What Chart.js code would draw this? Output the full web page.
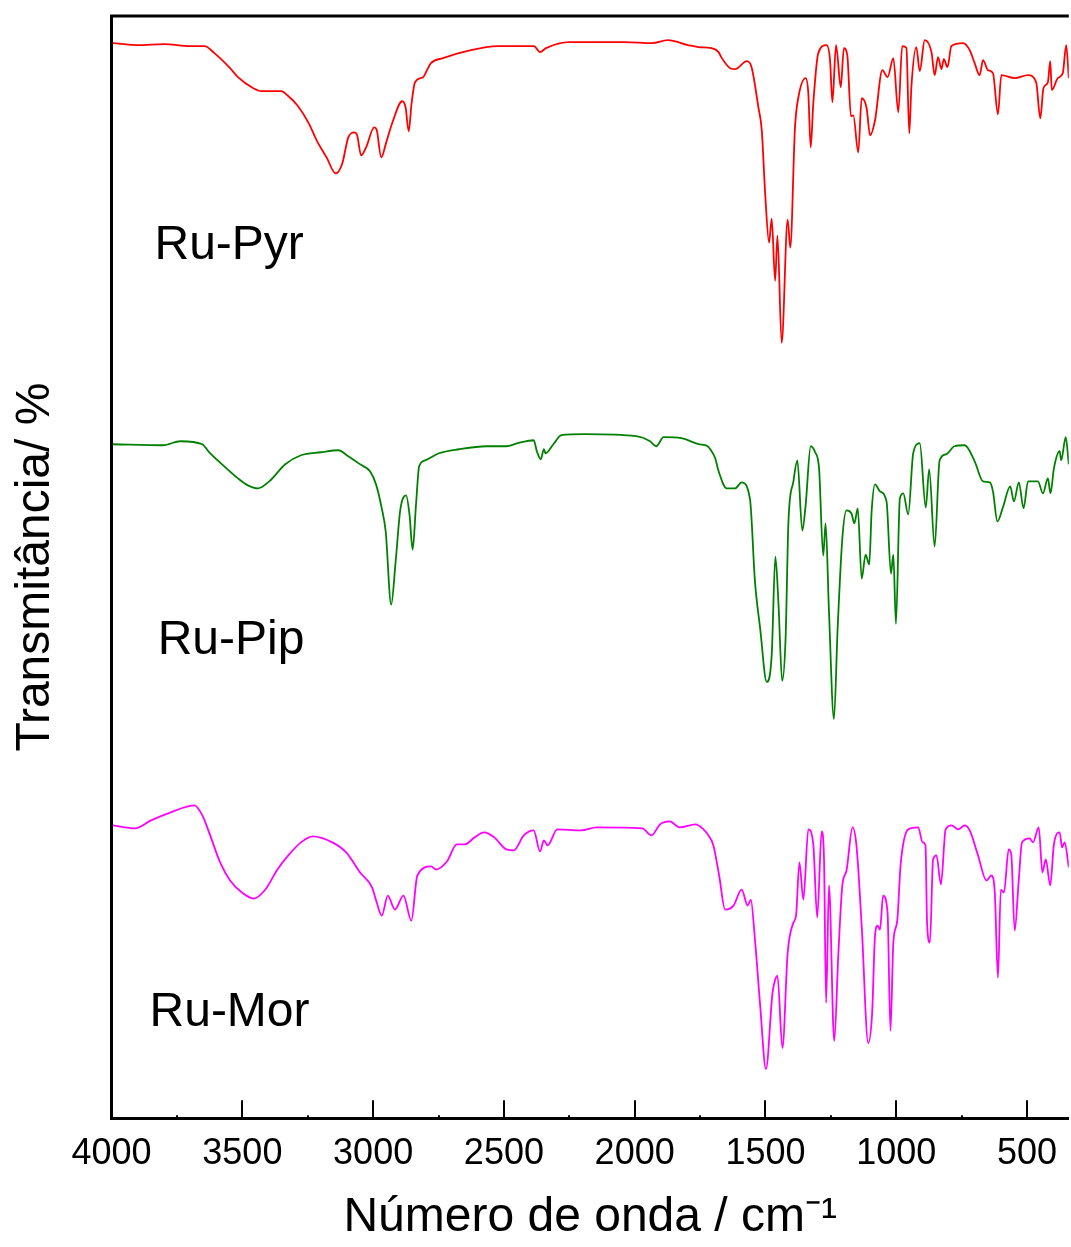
<!DOCTYPE html>
<html>
<head>
<meta charset="utf-8">
<script src="https://cdn.jsdelivr.net/npm/chart.js@4/dist/chart.umd.min.js"></script>
<style>
  html, body { margin: 0; padding: 0; background: #fff; }
  canvas { display: block; }
</style>
</head>
<body>
<canvas id="ir-chart" width="1071" height="1247"></canvas>
<script>
// wavenumbers (cm-1) and transmittance (offset, arbitrary %)
const seriesNames = ["Ru-Pyr", "Ru-Pip", "Ru-Mor"];

const pyrWn = [3995,3900,3800,3700,3645,3607,3547,3517,3458,3428,3351,3328,3290,3246,3216,3178,3143,3118,3095,3072,
  3061,3046,3027,2996,2986,2969,2951,2926,2889,2876,2864,2853,2840,2809,2794,2779,2733,2642,2523,2385,
  2362,2339,2250,2038,1933,1873,1797,1756,1706,1679,1669,1635,1616,1571,1553,1527,1514,1501,1486,1476,
  1463,1454,1438,1415,1405,1387,1374,1346,1336,1327,1317,1298,1266,1253,1244,1230,1212,1200,1187,1173,
  1164,1145,1132,1113,1100,1081,1053,1033,1011,992,977,961,950,942,923,910,891,865,853,840,
  827,818,804,789,744,719,700,681,668,649,630,611,598,547,496,465,449,437,420,411,
  405,382,363,350,340];
const pyrT = [107.2,107.0,107.1,106.9,106.9,106.2,104.7,103.8,102.7,102.4,102.4,102.0,101.0,99.2,97.5,95.8,94.2,95.2,97.8,98.3,
  98.0,96.0,96.8,98.8,98.5,95.8,97.2,99.3,101.4,100.8,98.4,101.2,103.3,103.8,104.5,105.2,105.7,106.4,106.9,106.9,
  106.3,106.7,107.3,107.3,107.2,107.5,107.0,106.8,106.7,106.3,105.8,104.7,104.6,105.4,104.8,100.8,98.5,92.2,87.3,89.7,
  83.5,88.0,77.3,89.6,86.8,98.8,101.8,103.7,102.2,96.8,101.2,106.2,107.0,105.5,101.3,107.0,102.8,106.7,106.0,99.9,
  100.0,96.3,101.7,100.7,98.0,99.5,104.5,103.8,105.7,100.3,106.9,106.7,98.2,102.8,106.8,104.4,107.5,106.3,104.0,105.8,
  104.6,105.6,104.8,106.9,107.2,106.5,105.2,104.0,105.5,104.5,104.2,100.1,104.0,103.7,104.0,103.3,99.7,102.7,103.3,105.4,
  102.5,103.7,104.2,107.0,103.7];

const pipWn = [3995,3804,3737,3653,3630,3578,3517,3479,3441,3397,3336,3276,3200,3133,3095,3050,3012,2989,2967,2952,
  2931,2914,2896,2874,2861,2849,2836,2824,2801,2748,2672,2567,2492,2447,2386,2374,2359,2347,2341,2311,
  2280,2190,1994,1941,1918,1889,1821,1756,1721,1711,1692,1679,1648,1616,1591,1559,1540,1520,1495,1476,
  1462,1450,1436,1423,1412,1393,1378,1359,1346,1327,1310,1295,1279,1270,1257,1238,1224,1206,1190,1171,
  1160,1147,1132,1117,1103,1094,1081,1062,1037,1020,1011,1001,986,973,954,935,910,887,874,853,
  834,809,777,738,700,668,642,630,613,592,564,550,531,513,496,458,439,420,410,397,
  375,369,352,340];
const pipT = [67.2,67.1,67.5,67.2,66.5,65.2,63.8,63.1,62.8,63.5,65.2,66.1,66.4,66.6,66.0,65.2,64.5,63.2,60.8,58.5,
  51.2,55.5,60.7,62.1,60.2,56.7,61.2,65.0,65.6,66.3,66.7,67.0,67.0,67.3,67.6,66.5,65.7,66.7,66.3,67.2,
  68.1,68.2,68.0,67.5,67.0,67.9,67.8,67.2,67.0,66.7,65.8,64.5,62.8,62.8,63.4,61.7,53.5,48.8,43.5,46.2,
  56.0,51.2,43.6,47.8,59.5,63.5,65.6,58.6,61.2,67.0,66.4,64.8,56.1,59.3,50.5,39.8,48.8,57.8,60.6,60.3,
  59.3,60.8,53.8,56.2,55.2,60.5,63.2,62.5,61.5,54.3,56.2,49.3,61.8,62.3,60.2,66.3,67.3,60.9,64.7,57.0,
  65.6,66.2,67.0,67.1,65.5,63.5,63.4,62.5,59.5,60.9,63.0,61.5,63.4,60.8,63.5,63.5,62.3,63.8,62.3,64.8,
  66.5,65.6,67.9,65.2];

const morWn = [3995,3910,3849,3774,3683,3653,3623,3585,3547,3502,3457,3412,3366,3321,3276,3231,3156,3103,3050,3004,
  2986,2967,2944,2917,2884,2854,2831,2778,2760,2718,2680,2650,2612,2575,2537,2491,2462,2424,2386,2362,
  2347,2333,2296,2205,2145,1971,1936,1903,1866,1828,1767,1737,1718,1699,1677,1654,1622,1591,1568,1556,
  1540,1520,1498,1473,1463,1454,1435,1415,1393,1383,1370,1355,1336,1317,1302,1285,1276,1268,1257,1237,
  1221,1206,1190,1167,1152,1132,1107,1092,1081,1071,1062,1050,1033,1022,1011,996,983,954,916,899,
  888,882,871,859,846,829,811,788,763,738,719,687,655,636,623,611,600,588,570,560,
  547,532,519,490,477,455,441,428,411,397,375,366,356,340];
const morT = [29.2,28.9,29.7,30.5,31.2,30.2,28.2,25.5,23.7,22.5,21.9,22.8,24.8,26.3,27.5,28.1,27.5,26.5,24.5,23.0,
  21.5,20.2,22.2,20.8,22.2,19.7,24.2,25.1,24.8,25.6,27.3,27.3,28.0,28.5,28.0,26.8,26.7,28.2,28.7,26.6,
  27.7,27.2,28.8,28.7,29.0,28.9,28.2,29.3,29.6,29.0,29.3,28.8,28.2,27.2,24.2,20.8,21.2,22.8,21.2,21.8,
  17.8,11.2,4.9,12.5,13.8,14.2,7.0,16.5,19.5,20.2,25.5,21.8,28.8,27.3,20.0,28.6,25.8,11.5,23.2,7.7,
  16.5,23.2,24.7,29.0,27.2,19.2,7.5,10.5,18.2,19.2,18.8,22.2,20.5,8.7,17.5,19.7,25.3,28.8,29.0,27.5,
  27.2,19.5,17.5,25.8,26.2,23.3,28.8,29.2,28.8,29.2,28.7,26.2,23.7,24.2,22.5,14.0,22.8,22.5,26.8,26.3,
  18.7,23.5,27.5,27.9,27.5,29.0,24.5,25.8,23.2,27.3,28.5,27.0,27.5,25.0];

const toPoints = (wn, t) => wn.map((w, i) => ({ x: w, y: t[i] }));

// where the sample names sit (wavenumber, offset value of the baseline)
const nameAnchors = [[3836, 85.7], [3824, 46.3], [3855, 9.2]];

const FONT = '"Liberation Sans", Arial, sans-serif';
Chart.defaults.font.family = FONT;
Chart.defaults.color = "#000";

// top frame line, inward x ticks and the sample names
const framePlugin = {
  id: "frame",
  afterDraw(chart) {
    const { ctx, chartArea: a, scales: { x, y } } = chart;
    ctx.save();
    ctx.strokeStyle = "#000";
    ctx.lineWidth = 3;
    ctx.beginPath();
    ctx.moveTo(a.left - 1.5, a.top);
    ctx.lineTo(a.right, a.top);
    ctx.stroke();

    ctx.lineWidth = 2;
    x.ticks.forEach((t) => {
      const px = Math.round(x.getPixelForValue(t.value));
      const len = t.value % 500 === 0 ? 18 : 3;
      ctx.beginPath();
      ctx.moveTo(px, a.bottom);
      ctx.lineTo(px, a.bottom - len);
      ctx.stroke();
    });

    ctx.fillStyle = "#000";
    ctx.font = "48px " + FONT;
    ctx.textBaseline = "alphabetic";
    ctx.textAlign = "left";
    seriesNames.forEach((name, i) => {
      const [wn, v] = nameAnchors[i];
      ctx.fillText(name, x.getPixelForValue(wn), y.getPixelForValue(v));
    });
    ctx.restore();
  },
};

const ctx = document.getElementById("ir-chart").getContext("2d");
new Chart(ctx, {
  type: "line",
  data: {
    datasets: [
      { label: seriesNames[0], data: toPoints(pyrWn, pyrT), borderColor: "#ff0000" },
      { label: seriesNames[1], data: toPoints(pipWn, pipT), borderColor: "#008000" },
      { label: seriesNames[2], data: toPoints(morWn, morT), borderColor: "#ff00ff" },
    ],
  },
  options: {
    responsive: false,
    animation: false,
    devicePixelRatio: 1,
    layout: { padding: { left: 0, right: 0, top: 16, bottom: 0 } },
    elements: {
      line: { borderWidth: 1.8, cubicInterpolationMode: "monotone", fill: false },
      point: { radius: 0 },
    },
    plugins: {
      legend: { display: false },
      tooltip: { enabled: false },
    },
    scales: {
      x: {
        type: "linear",
        reverse: true,
        min: 340,
        max: 4000,
        border: { display: true, width: 3, color: "#000" },
        grid: { display: false, drawTicks: false },
        ticks: {
          stepSize: 250,
          includeBounds: false,
          autoSkip: false,
          maxRotation: 0,
          padding: 14,
          font: { size: 36 },
          callback: (v) => (v % 500 === 0 ? String(v) : ""),
        },
        title: {
          display: true,
          text: "Número de onda / cm⁻¹",
          font: { size: 48 },
          padding: { top: 0, bottom: 0 },
        },
      },
      y: {
        min: 0,
        max: 109.9,
        border: { display: true, width: 3, color: "#000" },
        grid: { display: false, drawTicks: false },
        ticks: { display: false },
        title: {
          display: true,
          text: "Transmitância/ %",
          font: { size: 48 },
          padding: { top: 7, bottom: 47 },
        },
      },
    },
  },
  plugins: [framePlugin],
});
</script>
</body>
</html>
